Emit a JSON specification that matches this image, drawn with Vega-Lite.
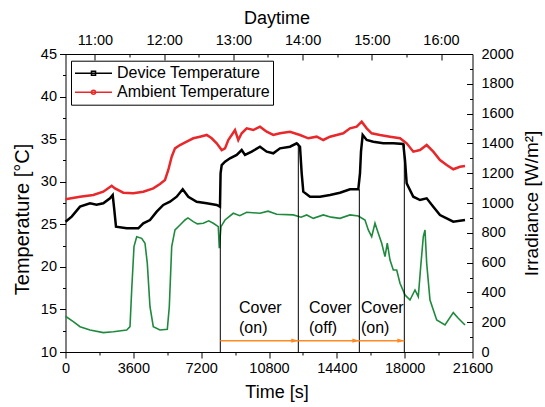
{
  "$schema": "https://vega.github.io/schema/vega-lite/v6.json",
  "width": 407,
  "height": 298,
  "autosize": {"type": "none"},
  "padding": {"left": 65.5, "top": 54, "right": 72.5, "bottom": 55},
  "background": "white",
  "config": {
    "view": {"stroke": null},
    "font": "Liberation Sans",
    "axis": {
      "grid": false, "domainColor": "black", "tickColor": "black", "labelColor": "black", "titleColor": "black",
      "labelFont": "Liberation Sans", "titleFont": "Liberation Sans", "labelFontSize": 14.5, "titleFontSize": 18,
      "titleFontWeight": "normal", "labelOverlap": false, "labelFlush": false, "labelBound": false,
      "domainWidth": 1, "tickWidth": 1
    },
    "legend": {
      "labelFont": "Liberation Sans", "labelFontSize": 16, "labelColor": "black"
    }
  },
  "datasets": {
    "temp": [
      {"t": 0, "T": 25.3, "s": "Device Temperature"},
      {"t": 329, "T": 25.9, "s": "Device Temperature"},
      {"t": 770, "T": 27.07, "s": "Device Temperature"},
      {"t": 1300, "T": 27.46, "s": "Device Temperature"},
      {"t": 1650, "T": 27.3, "s": "Device Temperature"},
      {"t": 2006, "T": 27.46, "s": "Device Temperature"},
      {"t": 2362, "T": 28.05, "s": "Device Temperature"},
      {"t": 2505, "T": 28.44, "s": "Device Temperature"},
      {"t": 2590, "T": 26.68, "s": "Device Temperature"},
      {"t": 2680, "T": 24.72, "s": "Device Temperature"},
      {"t": 3248, "T": 24.53, "s": "Device Temperature"},
      {"t": 3864, "T": 24.53, "s": "Device Temperature"},
      {"t": 4129, "T": 25.11, "s": "Device Temperature"},
      {"t": 4484, "T": 25.5, "s": "Device Temperature"},
      {"t": 4840, "T": 26.48, "s": "Device Temperature"},
      {"t": 5190, "T": 27.27, "s": "Device Temperature"},
      {"t": 5546, "T": 27.65, "s": "Device Temperature"},
      {"t": 5901, "T": 28.24, "s": "Device Temperature"},
      {"t": 6220, "T": 29.11, "s": "Device Temperature"},
      {"t": 6517, "T": 28.24, "s": "Device Temperature"},
      {"t": 6963, "T": 27.65, "s": "Device Temperature"},
      {"t": 7493, "T": 27.46, "s": "Device Temperature"},
      {"t": 8024, "T": 27.27, "s": "Device Temperature"},
      {"t": 8199, "T": 27.07, "s": "Device Temperature"},
      {"t": 8230, "T": 30.99, "s": "Device Temperature"},
      {"t": 8290, "T": 31.96, "s": "Device Temperature"},
      {"t": 8465, "T": 32.35, "s": "Device Temperature"},
      {"t": 8730, "T": 32.75, "s": "Device Temperature"},
      {"t": 9086, "T": 33.14, "s": "Device Temperature"},
      {"t": 9351, "T": 33.72, "s": "Device Temperature"},
      {"t": 9526, "T": 33.14, "s": "Device Temperature"},
      {"t": 9882, "T": 33.53, "s": "Device Temperature"},
      {"t": 10322, "T": 34.11, "s": "Device Temperature"},
      {"t": 10678, "T": 33.53, "s": "Device Temperature"},
      {"t": 11028, "T": 33.34, "s": "Device Temperature"},
      {"t": 11384, "T": 33.92, "s": "Device Temperature"},
      {"t": 11914, "T": 34.11, "s": "Device Temperature"},
      {"t": 12270, "T": 34.51, "s": "Device Temperature"},
      {"t": 12445, "T": 34.11, "s": "Device Temperature"},
      {"t": 12535, "T": 30.99, "s": "Device Temperature"},
      {"t": 12620, "T": 28.83, "s": "Device Temperature"},
      {"t": 12976, "T": 28.24, "s": "Device Temperature"},
      {"t": 13506, "T": 28.24, "s": "Device Temperature"},
      {"t": 14037, "T": 28.44, "s": "Device Temperature"},
      {"t": 14567, "T": 28.71, "s": "Device Temperature"},
      {"t": 15099, "T": 29.11, "s": "Device Temperature"},
      {"t": 15539, "T": 29.11, "s": "Device Temperature"},
      {"t": 15629, "T": 30.99, "s": "Device Temperature"},
      {"t": 15682, "T": 33.53, "s": "Device Temperature"},
      {"t": 15772, "T": 35.49, "s": "Device Temperature"},
      {"t": 15985, "T": 34.9, "s": "Device Temperature"},
      {"t": 16335, "T": 34.7, "s": "Device Temperature"},
      {"t": 16866, "T": 34.51, "s": "Device Temperature"},
      {"t": 17397, "T": 34.51, "s": "Device Temperature"},
      {"t": 17927, "T": 34.43, "s": "Device Temperature"},
      {"t": 18017, "T": 32.55, "s": "Device Temperature"},
      {"t": 18107, "T": 29.81, "s": "Device Temperature"},
      {"t": 18458, "T": 28.24, "s": "Device Temperature"},
      {"t": 18814, "T": 27.85, "s": "Device Temperature"},
      {"t": 19169, "T": 28.05, "s": "Device Temperature"},
      {"t": 19519, "T": 27.07, "s": "Device Temperature"},
      {"t": 19875, "T": 26.09, "s": "Device Temperature"},
      {"t": 20230, "T": 25.7, "s": "Device Temperature"},
      {"t": 20580, "T": 25.3, "s": "Device Temperature"},
      {"t": 21202, "T": 25.5, "s": "Device Temperature"},
      {"t": 0, "T": 27.93, "s": "Ambient Temperature"},
      {"t": 770, "T": 28.24, "s": "Ambient Temperature"},
      {"t": 1475, "T": 28.44, "s": "Ambient Temperature"},
      {"t": 2006, "T": 28.83, "s": "Ambient Temperature"},
      {"t": 2452, "T": 29.53, "s": "Ambient Temperature"},
      {"t": 2627, "T": 29.22, "s": "Ambient Temperature"},
      {"t": 3067, "T": 28.71, "s": "Ambient Temperature"},
      {"t": 3598, "T": 28.64, "s": "Ambient Temperature"},
      {"t": 4129, "T": 28.83, "s": "Ambient Temperature"},
      {"t": 4659, "T": 29.22, "s": "Ambient Temperature"},
      {"t": 5015, "T": 29.73, "s": "Ambient Temperature"},
      {"t": 5280, "T": 30.2, "s": "Ambient Temperature"},
      {"t": 5456, "T": 31.38, "s": "Ambient Temperature"},
      {"t": 5636, "T": 32.94, "s": "Ambient Temperature"},
      {"t": 5811, "T": 33.92, "s": "Ambient Temperature"},
      {"t": 6077, "T": 34.31, "s": "Ambient Temperature"},
      {"t": 6432, "T": 34.7, "s": "Ambient Temperature"},
      {"t": 6782, "T": 35.1, "s": "Ambient Temperature"},
      {"t": 7138, "T": 35.29, "s": "Ambient Temperature"},
      {"t": 7493, "T": 35.49, "s": "Ambient Temperature"},
      {"t": 7759, "T": 35.1, "s": "Ambient Temperature"},
      {"t": 8024, "T": 34.51, "s": "Ambient Temperature"},
      {"t": 8290, "T": 33.72, "s": "Ambient Temperature"},
      {"t": 8465, "T": 33.92, "s": "Ambient Temperature"},
      {"t": 8640, "T": 34.9, "s": "Ambient Temperature"},
      {"t": 8820, "T": 35.49, "s": "Ambient Temperature"},
      {"t": 8995, "T": 36.07, "s": "Ambient Temperature"},
      {"t": 9170, "T": 34.9, "s": "Ambient Temperature"},
      {"t": 9351, "T": 35.69, "s": "Ambient Temperature"},
      {"t": 9616, "T": 36.27, "s": "Ambient Temperature"},
      {"t": 9967, "T": 36.07, "s": "Ambient Temperature"},
      {"t": 10322, "T": 36.46, "s": "Ambient Temperature"},
      {"t": 10678, "T": 35.87, "s": "Ambient Temperature"},
      {"t": 11028, "T": 35.49, "s": "Ambient Temperature"},
      {"t": 11384, "T": 35.69, "s": "Ambient Temperature"},
      {"t": 11914, "T": 35.87, "s": "Ambient Temperature"},
      {"t": 12445, "T": 35.49, "s": "Ambient Temperature"},
      {"t": 12885, "T": 35.1, "s": "Ambient Temperature"},
      {"t": 13331, "T": 35.29, "s": "Ambient Temperature"},
      {"t": 13682, "T": 34.9, "s": "Ambient Temperature"},
      {"t": 14037, "T": 35.29, "s": "Ambient Temperature"},
      {"t": 14393, "T": 35.49, "s": "Ambient Temperature"},
      {"t": 14743, "T": 35.69, "s": "Ambient Temperature"},
      {"t": 15099, "T": 36.27, "s": "Ambient Temperature"},
      {"t": 15454, "T": 36.46, "s": "Ambient Temperature"},
      {"t": 15720, "T": 37.05, "s": "Ambient Temperature"},
      {"t": 15985, "T": 36.27, "s": "Ambient Temperature"},
      {"t": 16250, "T": 35.69, "s": "Ambient Temperature"},
      {"t": 16691, "T": 35.49, "s": "Ambient Temperature"},
      {"t": 17222, "T": 35.29, "s": "Ambient Temperature"},
      {"t": 17752, "T": 35.1, "s": "Ambient Temperature"},
      {"t": 18107, "T": 34.51, "s": "Ambient Temperature"},
      {"t": 18458, "T": 33.53, "s": "Ambient Temperature"},
      {"t": 18814, "T": 33.72, "s": "Ambient Temperature"},
      {"t": 19169, "T": 34.31, "s": "Ambient Temperature"},
      {"t": 19519, "T": 33.53, "s": "Ambient Temperature"},
      {"t": 19875, "T": 32.55, "s": "Ambient Temperature"},
      {"t": 20230, "T": 31.96, "s": "Ambient Temperature"},
      {"t": 20580, "T": 31.46, "s": "Ambient Temperature"},
      {"t": 20936, "T": 31.76, "s": "Ambient Temperature"},
      {"t": 21202, "T": 31.85, "s": "Ambient Temperature"}
    ],
    "irr": [
      {"t": 0, "I": 240}, {"t": 414, "I": 204}, {"t": 770, "I": 170}, {"t": 1300, "I": 148},
      {"t": 2006, "I": 130}, {"t": 2537, "I": 136}, {"t": 3248, "I": 148}, {"t": 3423, "I": 170},
      {"t": 3513, "I": 416}, {"t": 3635, "I": 707}, {"t": 3779, "I": 774}, {"t": 4044, "I": 763},
      {"t": 4219, "I": 730}, {"t": 4341, "I": 595}, {"t": 4484, "I": 304}, {"t": 4659, "I": 170},
      {"t": 5015, "I": 148}, {"t": 5403, "I": 152}, {"t": 5509, "I": 304}, {"t": 5636, "I": 707},
      {"t": 5811, "I": 819}, {"t": 6077, "I": 852}, {"t": 6342, "I": 886}, {"t": 6500, "I": 900},
      {"t": 6782, "I": 875}, {"t": 7000, "I": 860}, {"t": 7313, "I": 864}, {"t": 7600, "I": 880},
      {"t": 7844, "I": 864}, {"t": 8109, "I": 841}, {"t": 8162, "I": 696}, {"t": 8252, "I": 841},
      {"t": 8465, "I": 886}, {"t": 8905, "I": 931}, {"t": 9250, "I": 915}, {"t": 9616, "I": 938}, {"t": 10322, "I": 931},
      {"t": 10750, "I": 945}, {"t": 11208, "I": 924}, {"t": 12089, "I": 920}, {"t": 12500, "I": 905}, {"t": 12800, "I": 920}, {"t": 13151, "I": 897},
      {"t": 13682, "I": 920}, {"t": 14100, "I": 905}, {"t": 14567, "I": 897}, {"t": 15099, "I": 920}, {"t": 15539, "I": 913},
      {"t": 15894, "I": 886}, {"t": 16070, "I": 819}, {"t": 16250, "I": 774}, {"t": 16425, "I": 864},
      {"t": 16600, "I": 797}, {"t": 16781, "I": 730}, {"t": 16956, "I": 640}, {"t": 17078, "I": 730},
      {"t": 17222, "I": 617}, {"t": 17397, "I": 550}, {"t": 17577, "I": 550}, {"t": 17752, "I": 461},
      {"t": 18017, "I": 383}, {"t": 18283, "I": 349}, {"t": 18548, "I": 416}, {"t": 18723, "I": 371},
      {"t": 18851, "I": 573}, {"t": 18989, "I": 774}, {"t": 19079, "I": 819}, {"t": 19169, "I": 595},
      {"t": 19344, "I": 349}, {"t": 19700, "I": 215}, {"t": 20140, "I": 181}, {"t": 20580, "I": 264},
      {"t": 20846, "I": 226}, {"t": 21202, "I": 181}
    ],
    "covers": [
      {"t": 8216, "top": 27.1}, {"t": 12356, "top": 34.5}, {"t": 15594, "top": 29.1}, {"t": 17982, "top": 34.4}
    ],
    "arrows": [
      {"start": 8216, "end": 12356}, {"start": 12356, "end": 15594}, {"start": 15594, "end": 17982}
    ],
    "labels": [
      {"t": 9208, "label": "Cover\n(on)"}, {"t": 12923, "label": "Cover\n(off)"}, {"t": 15682, "label": "Cover\n(on)"}
    ],
    "hours": [{"h": 11}]
  },
  "layer": [
    {
      "data": {"name": "hours"},
      "mark": {"type": "point", "opacity": 0},
      "encoding": {
        "x": {"field": "h", "type": "quantitative",
          "scale": {"domain": [10.574, 16.455], "nice": false, "zero": false},
          "axis": {"orient": "top", "title": "Daytime", "values": [11, 11.5, 12, 12.5, 13, 13.5, 14, 14.5, 15, 15.5, 16],
            "labelExpr": "datum.value % 1 === 0 ? datum.value + ':00' : ''",
            "tickSize": {"condition": {"test": "datum.value % 1 === 0", "value": -6}, "value": -3},
            "labelPadding": 13, "titlePadding": 2, "titleX": 211}}
      }
    },
    {
      "data": {"name": "irr"},
      "mark": {"type": "line", "color": "#1f8a3e", "strokeWidth": 1.6},
      "encoding": {
        "x": {"field": "t", "type": "quantitative", "scale": {"domain": [0, 21600], "nice": false, "zero": false}, "axis": null},
        "y": {"field": "I", "type": "quantitative", "scale": {"domain": [0, 2000], "nice": false, "zero": false},
          "axis": {"orient": "right", "title": "Irradiance [W/m²]", "values": [0,100,200,300,400,500,600,700,800,900,1000,1100,1200,1300,1400,1500,1600,1700,1800,1900,2000],
            "labelExpr": "datum.value % 200 === 0 ? datum.label : ''", "format": "d",
            "tickSize": {"condition": {"test": "datum.value % 200 === 0", "value": -6}, "value": -3},
            "labelPadding": 14.5, "titleAngle": -90, "titleBaseline": "top", "titlePadding": 9, "titleFontSize": 19}}
      }
    },
    {
      "data": {"name": "temp"},
      "mark": {"type": "line", "strokeWidth": 2.5},
      "encoding": {
        "x": {"field": "t", "type": "quantitative", "scale": {"domain": [0, 21600], "nice": false, "zero": false},
          "axis": {"orient": "bottom", "title": "Time [s]", "values": [0,1800,3600,5400,7200,9000,10800,12600,14400,16200,18000,19800,21600],
            "format": "d", "labelExpr": "datum.value % 3600 === 0 ? datum.label : ''",
            "tickSize": {"condition": {"test": "datum.value % 3600 === 0", "value": 6}, "value": 3},
            "labelPadding": 3, "titlePadding": 9, "titleX": 211}},
        "y": {"field": "T", "type": "quantitative", "scale": {"domain": [10, 45], "nice": false, "zero": false},
          "axis": {"orient": "left", "title": "Temperature [°C]", "values": [10,12.5,15,17.5,20,22.5,25,27.5,30,32.5,35,37.5,40,42.5,45],
            "labelExpr": "datum.value % 5 === 0 ? datum.label : ''",
            "tickSize": {"condition": {"test": "datum.value % 5 === 0", "value": 6}, "value": 3},
            "labelPadding": 3, "titlePadding": 8, "titleFontSize": 20, "titleY": 165}},
        "color": {"field": "s", "type": "nominal",
          "scale": {"domain": ["Device Temperature", "Ambient Temperature"], "range": ["#000000", "#e8282b"]},
          "legend": {"orient": "none", "legendX": 5.5, "legendY": 6.7, "title": null, "strokeColor": "black", "fillColor": "white",
            "padding": 3, "symbolType": "M-1,0H1", "symbolSize": 1369, "symbolStrokeWidth": 1.5, "labelOffset": 4, "clipHeight": 19, "rowPadding": 0,
            "encode": {"symbols": {"update": {"shape": {"signal": "datum.value === 'Device Temperature' ? 'M-1,0H1M-0.11,-0.11H0.11V0.11H-0.11Z' : 'M-1,0H1M0.11,0A0.11,0.11,0,1,1,-0.11,0A0.11,0.11,0,1,1,0.11,0'"}}}}}}
      }
    },
    {
      "data": {"name": "covers"},
      "mark": {"type": "rule", "color": "black", "strokeWidth": 1},
      "encoding": {
        "x": {"field": "t", "type": "quantitative", "scale": {"domain": [0, 21600], "nice": false, "zero": false}, "axis": null},
        "y": {"field": "top", "type": "quantitative", "scale": {"domain": [10, 45], "nice": false, "zero": false}, "axis": null},
        "y2": {"datum": 10}
      }
    },
    {
      "data": {"name": "arrows"},
      "mark": {"type": "rule", "color": "#ff8a24", "strokeWidth": 1.5},
      "encoding": {
        "x": {"field": "start", "type": "quantitative", "scale": {"domain": [0, 21600], "nice": false, "zero": false}, "axis": null},
        "x2": {"field": "end"},
        "y": {"datum": 11.33, "type": "quantitative", "scale": {"domain": [10, 45], "nice": false, "zero": false}, "axis": null}
      }
    },
    {
      "data": {"name": "arrows"},
      "mark": {"type": "point", "shape": "M-1,-0.6L1,0L-1,0.6Z", "size": 49, "filled": true, "color": "#ff8a24", "opacity": 1, "xOffset": -3.5},
      "encoding": {
        "x": {"field": "end", "type": "quantitative", "scale": {"domain": [0, 21600], "nice": false, "zero": false}, "axis": null},
        "y": {"datum": 11.33, "type": "quantitative", "scale": {"domain": [10, 45], "nice": false, "zero": false}, "axis": null}
      }
    },
    {
      "data": {"name": "labels"},
      "mark": {"type": "text", "align": "left", "baseline": "alphabetic", "fontSize": 16, "font": "Liberation Sans", "color": "black", "lineBreak": "\n", "lineHeight": 20},
      "encoding": {
        "x": {"field": "t", "type": "quantitative", "scale": {"domain": [0, 21600], "nice": false, "zero": false}, "axis": null},
        "y": {"datum": 14.55, "type": "quantitative", "scale": {"domain": [10, 45], "nice": false, "zero": false}, "axis": null},
        "text": {"field": "label"}
      }
    }
  ],
  "resolve": {"scale": {"x": "independent", "y": "independent"}, "axis": {"x": "independent", "y": "independent"}}
}
